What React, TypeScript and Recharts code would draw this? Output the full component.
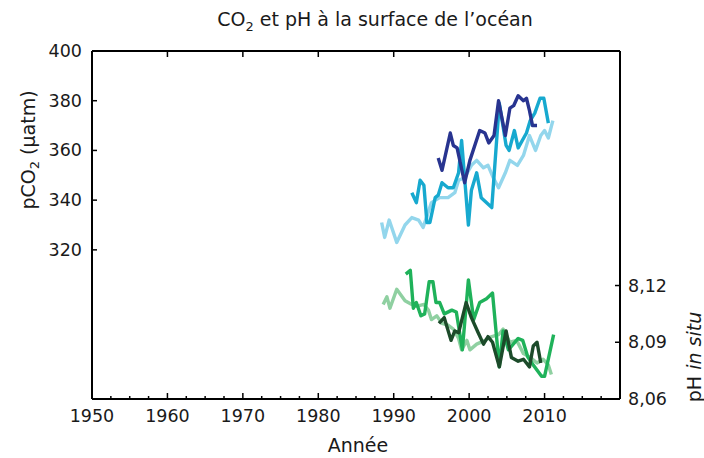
import React from 'react';
import { LineChart, Line, XAxis, YAxis } from 'recharts';

// pCO2 (µatm) – three stations
const hotYearsC = [1988.4, 1988.8, 1989.4, 1990.4, 1991.5, 1992.4, 1993.3, 1993.9, 1995.0, 1996.1, 1997.2, 1998.1, 1998.6, 1999.4, 2000.3, 2001.0, 2001.9, 2002.5, 2003.2, 2003.9, 2004.8, 2005.4, 2006.4, 2007.2, 2008.0, 2008.8, 2009.5, 2010.0, 2010.5, 2011.1];
const hotPco2 = [331, 325, 332, 323, 330, 333, 332, 329, 339, 341, 341, 343, 348, 349, 354, 356, 353, 354, 349, 345, 351, 356, 354, 358, 366, 360, 366, 368, 365, 372];

const batsYearsC = [1992.4, 1993.0, 1993.5, 1994.0, 1994.4, 1994.8, 1995.5, 1995.9, 1996.4, 1997.2, 1997.9, 1998.6, 1999.0, 1999.4, 1999.9, 2000.3, 2001.0, 2001.6, 2003.0, 2004.0, 2004.9, 2005.3, 2006.0, 2006.5, 2007.6, 2008.1, 2008.7, 2009.4, 2009.9, 2010.5];
const batsPco2 = [343, 339, 348, 346, 331, 331, 341, 342, 347, 345, 345, 351, 364, 349, 330, 344, 351, 341, 337, 379, 362, 360, 368, 361, 367, 372, 375, 381, 381, 371];

const estocYearsC = [1995.9, 1996.4, 1997.5, 1997.9, 1998.4, 1999.4, 2000.1, 2001.4, 2002.1, 2002.6, 2003.3, 2003.9, 2004.8, 2005.4, 2005.9, 2006.5, 2007.2, 2007.6, 2008.0, 2008.4, 2009.0];
const estocPco2 = [357, 352, 367, 362, 361, 347, 356, 368, 367, 363, 366, 380, 366, 377, 378, 382, 380, 381, 376, 370, 370];

// pH in situ
const hotYearsP = [1988.6, 1989.1, 1989.5, 1990.4, 1991.5, 1992.4, 1993.0, 1994.0, 1994.6, 1995.0, 1995.7, 1996.4, 1997.2, 1997.9, 1998.6, 1999.0, 1999.7, 2000.1, 2001.0, 2002.1, 2003.0, 2003.9, 2004.5, 2005.4, 2006.3, 2007.2, 2008.1, 2009.0, 2009.8, 2010.5, 2010.9];
const hotPh = [8.110, 8.114, 8.108, 8.118, 8.112, 8.110, 8.109, 8.110, 8.107, 8.102, 8.104, 8.100, 8.099, 8.097, 8.092, 8.086, 8.091, 8.086, 8.089, 8.091, 8.093, 8.094, 8.097, 8.090, 8.091, 8.084, 8.082, 8.079, 8.081, 8.078, 8.073];

const batsYearsP = [1991.6, 1992.2, 1992.6, 1993.0, 1993.6, 1994.1, 1994.7, 1995.2, 1995.6, 1996.1, 1996.7, 1997.7, 1998.3, 1999.1, 1999.9, 2000.6, 2001.4, 2002.3, 2003.1, 2004.0, 2004.5, 2005.2, 2006.5, 2007.1, 2007.8, 2008.5, 2009.6, 2010.0, 2011.2];
const batsPh = [8.126, 8.128, 8.108, 8.111, 8.104, 8.105, 8.122, 8.122, 8.111, 8.111, 8.105, 8.107, 8.106, 8.086, 8.123, 8.102, 8.111, 8.113, 8.116, 8.077, 8.096, 8.086, 8.092, 8.091, 8.082, 8.078, 8.072, 8.072, 8.094];

const estocYearsP = [1996.0, 1996.7, 1997.6, 1998.1, 1998.6, 1999.6, 2000.3, 2001.2, 2001.9, 2002.5, 2003.1, 2004.0, 2004.9, 2005.6, 2006.5, 2007.2, 2008.0, 2008.5, 2009.0, 2009.5];
const estocPh = [8.100, 8.103, 8.091, 8.096, 8.095, 8.111, 8.103, 8.095, 8.089, 8.093, 8.090, 8.077, 8.096, 8.082, 8.080, 8.081, 8.077, 8.088, 8.090, 8.079];

// axis ticks
const yearTicks = [1950, 1952.5, 1955, 1957.5, 1960, 1962.5, 1965, 1967.5, 1970, 1972.5, 1975, 1977.5, 1980, 1982.5, 1985, 1987.5, 1990, 1992.5, 1995, 1997.5, 2000, 2002.5, 2005, 2007.5, 2010, 2012.5, 2015, 2017.5];
const topTicks = [1960, 1970, 1980, 1990, 2000, 2010];
const pco2Ticks = [320, 340, 360, 380, 400];
const phTicks = [8.06, 8.09, 8.12];

const toRows = (xs: number[], ys: number[]) => xs.map((x, i) => ({ year: x, v: ys[i] }));

const FONT = '"DejaVu Sans", sans-serif';
const INK = '#1a1a1a';

const BottomTick = (props: any) => {
  const { x, y, payload } = props;
  const v = payload.value;
  const major = v % 10 === 0;
  return (
    <g>
      <line x1={x} x2={x} y1={y} y2={y - (major ? 6 : 3)} stroke="#000" strokeWidth={1.5} />
      {major && v < 2020 && (
        <text x={x} y={y + 23} textAnchor="middle" fontSize={17.5} fontFamily={FONT} fill={INK}>{v}</text>
      )}
    </g>
  );
};

const TopTick = (props: any) => {
  const { x, y } = props;
  return <line x1={x} x2={x} y1={y} y2={y + 6} stroke="#000" strokeWidth={1.5} />;
};

const LeftTick = (props: any) => {
  const { x, y, payload } = props;
  return (
    <g>
      <line x1={x} x2={x + 5} y1={y} y2={y} stroke="#000" strokeWidth={1.5} />
      <text x={x - 10} y={y + 6} textAnchor="end" fontSize={17.5} fontFamily={FONT} fill={INK}>{payload.value}</text>
    </g>
  );
};

const RightTick = (props: any) => {
  const { x, y, payload } = props;
  return (
    <g>
      {payload.value > 8.061 && <line x1={x} x2={x - 5} y1={y} y2={y} stroke="#000" strokeWidth={1.5} />}
      <text x={x + 8} y={y + 6} textAnchor="start" fontSize={17.5} fontFamily={FONT} fill={INK}>
        {payload.value.toFixed(2).replace('.', ',')}
      </text>
    </g>
  );
};

const axisStroke = { stroke: '#000', strokeWidth: 2 };
const LW = 3.4;

export default function App() {
  return (
    <div style={{ position: 'absolute', left: 0, top: 0, width: 704, height: 458, background: '#fff' }}>
      <LineChart width={704} height={458} margin={{ top: 21, right: 44, bottom: 29, left: 52 }}>
        <XAxis
          dataKey="year"
          type="number"
          domain={[1950, 2020]}
          ticks={yearTicks}
          interval={0}
          height={30}
          tickSize={0}
          tickMargin={0}
          tickLine={false}
          axisLine={axisStroke}
          tick={<BottomTick />}
          allowDataOverflow
        />
        <XAxis
          xAxisId="top"
          orientation="top"
          dataKey="year"
          type="number"
          domain={[1950, 2020]}
          ticks={topTicks}
          interval={0}
          height={30}
          tickSize={0}
          tickMargin={0}
          tickLine={false}
          axisLine={axisStroke}
          tick={<TopTick />}
          allowDataOverflow
        />
        <YAxis
          yAxisId="left"
          type="number"
          domain={[260, 400]}
          ticks={pco2Ticks}
          interval={0}
          width={40}
          tickSize={0}
          tickMargin={0}
          tickLine={false}
          axisLine={axisStroke}
          tick={<LeftTick />}
          allowDataOverflow
        />
        <YAxis
          yAxisId="right"
          orientation="right"
          type="number"
          domain={[8.06, 8.244]}
          ticks={phTicks}
          interval={0}
          width={40}
          tickSize={0}
          tickMargin={0}
          tickLine={false}
          axisLine={axisStroke}
          tick={<RightTick />}
          allowDataOverflow
        />

        <Line yAxisId="left" data={toRows(hotYearsC, hotPco2)} dataKey="v" stroke="#93d6ec" strokeWidth={LW} dot={false} isAnimationActive={false} strokeLinejoin="round" />
        <Line yAxisId="left" data={toRows(batsYearsC, batsPco2)} dataKey="v" stroke="#17a9cf" strokeWidth={LW} dot={false} isAnimationActive={false} strokeLinejoin="round" />
        <Line yAxisId="left" data={toRows(estocYearsC, estocPco2)} dataKey="v" stroke="#283490" strokeWidth={LW} dot={false} isAnimationActive={false} strokeLinejoin="round" />

        <Line yAxisId="right" data={toRows(hotYearsP, hotPh)} dataKey="v" stroke="#8fd0a1" strokeWidth={LW} dot={false} isAnimationActive={false} strokeLinejoin="round" />
        <Line yAxisId="right" data={toRows(batsYearsP, batsPh)} dataKey="v" stroke="#1fb25a" strokeWidth={LW} dot={false} isAnimationActive={false} strokeLinejoin="round" />
        <Line yAxisId="right" data={toRows(estocYearsP, estocPh)} dataKey="v" stroke="#1c4b2a" strokeWidth={LW} dot={false} isAnimationActive={false} strokeLinejoin="round" />
      </LineChart>

      <svg width={704} height={458} style={{ position: 'absolute', left: 0, top: 0, pointerEvents: 'none' }}>
        <text x={375} y={26} textAnchor="middle" fontSize={19} fontFamily={FONT} fill={INK}>
          CO<tspan fontSize={13} dy={5}>2</tspan><tspan dy={-5}> et pH à la surface de l’océan</tspan>
        </text>
        <text x={358} y={452} textAnchor="middle" fontSize={19} fontFamily={FONT} fill={INK}>Année</text>
        <text transform="translate(35,150) rotate(-90)" textAnchor="middle" fontSize={19} fontFamily={FONT} fill={INK}>
          pCO<tspan fontSize={13} dy={4}>2</tspan><tspan dy={-4}> (µatm)</tspan>
        </text>
        <text transform="translate(701,357) rotate(-90)" textAnchor="middle" fontSize={19} fontFamily={FONT} fill={INK}>
          pH <tspan fontStyle="italic">in situ</tspan>
        </text>
      </svg>
    </div>
  );
}
